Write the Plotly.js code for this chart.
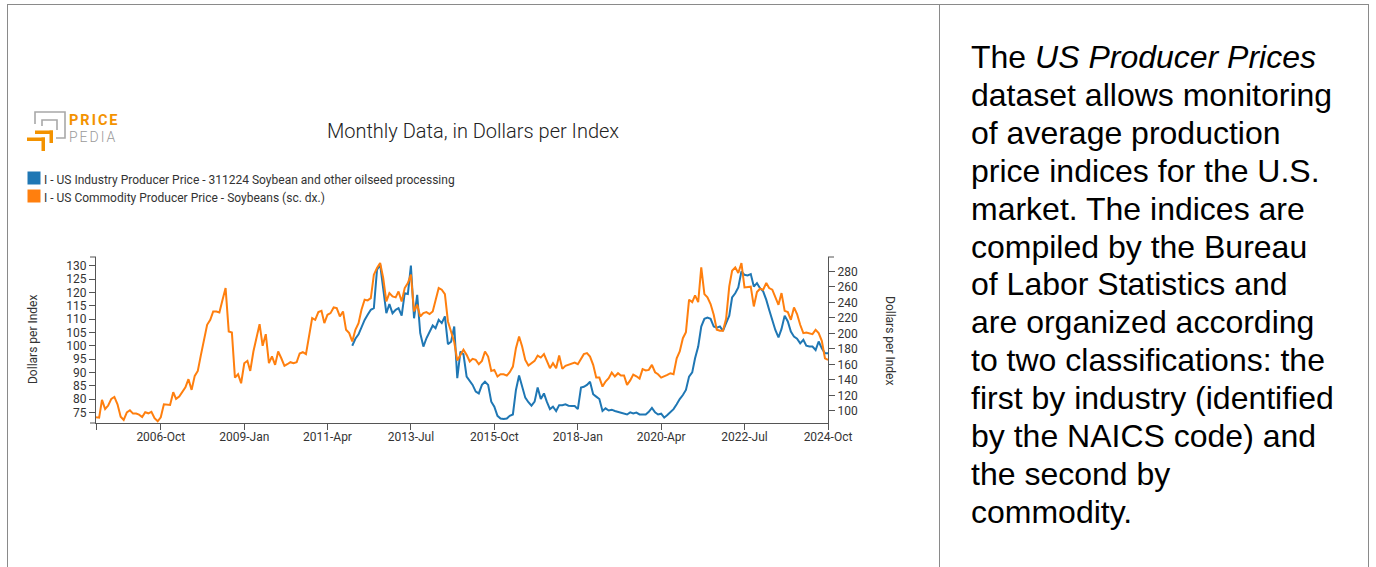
<!DOCTYPE html>
<html>
<head>
<meta charset="utf-8">
<script src="https://cdn.plot.ly/plotly-3.0.1.min.js"></script>
<style>
  html, body { margin: 0; padding: 0; background: #fff; }
  body { width: 1376px; height: 567px; position: relative; overflow: hidden; }
  #frame { position: absolute; left: 7px; top: 4px; width: 1362px; height: 600px;
           border-left: 1px solid #8a8a8a; border-top: 1px solid #8a8a8a; border-right: 1px solid #8a8a8a; box-sizing: border-box; }
  #divider { position: absolute; left: 939px; top: 4px; width: 1px; height: 600px; background: #8a8a8a; }
  #chart { position: absolute; left: 0; top: 0; width: 939px; height: 567px; }
  #logo { position: absolute; left: 69px; top: 112px; font-family: Roboto, sans-serif; font-size: 14px;
          line-height: 17px; white-space: nowrap; }
  #logo .a { color: #f39200; font-weight: 700; letter-spacing: 2px; font-size: 14.5px; }
  #logo .b { color: #9a9a9a; font-weight: 300; letter-spacing: 2px; }
  #note { position: absolute; left: 971px; top: 39px; font-family: "Liberation Sans", Arial, sans-serif;
          font-size: 32px; line-height: 37.9px; color: #000; white-space: nowrap; }
</style>
</head>
<body>
<div id="frame"></div>
<div id="divider"></div>
<div id="chart"></div>
<div id="logo"></div>
<div id="note">The <i>US Producer Prices</i><br>dataset allows monitoring<br>of average production<br>price indices for the U.S.<br>market. The indices are<br>compiled by the Bureau<br>of Labor Statistics and<br>are organized according<br>to two classifications: the<br>first by industry (identified<br>by the NAICS code) and<br>the second by<br>commodity.</div>
<script>
// ---- data ----
const seriesNames = [
  "I - US Industry Producer Price - 311224 Soybean and other oilseed processing",
  "I - US Commodity Producer Price - Soybeans (sc. dx.)"
];
const chartTitle = "Monthly Data, in Dollars per Index";
const axisTitle = "Dollars per Index";

// Soybeans commodity PPI (right axis), monthly from 2005-01
const commodityStart = [2005, 1];
const commodityValues = [
  92, 91.4, 114.3, 102.6, 107, 115.6, 118.1, 108.7, 92.7, 88.4,
  98.3, 100.9, 96.6, 96.6, 95.3, 92.3, 98.3, 97, 98.8, 90.6,
  86.7, 91.9, 108.7, 108.7, 107.8, 124.2, 115.6, 118.6, 124.2, 130.6,
  141, 127.2, 145.3, 151.7, 172.4, 191.8, 211.2, 217.6, 228.4, 228.4,
  227.1, 243.5, 258.5, 202.6, 201.3, 143.1, 147.4, 135.8, 161.6, 164.7,
  151.7, 176.7, 194, 212, 184, 199, 161.6, 170.5, 159.5, 176.7,
  168, 158.2, 160.3, 162.9, 161.6, 162.9, 174.1, 175.8, 173.3, 196.1,
  219.8, 217.6, 227.5, 229.2, 213.3, 224.1, 226.2, 233.6, 232.7, 221.9,
  228.4, 204.7, 200.4, 189.6, 204.7, 213.3, 230.5, 243.5, 242.6, 245.6,
  275.8, 284.4, 290.8, 271.5, 241.3, 252.1, 247.8, 246.5, 254.2, 241.3,
  258.5, 265, 275.8, 228.4, 237, 221.9, 226.2, 227.5, 225, 228.4,
  243.5, 258.5, 256.4, 250.8, 215.5, 201.5, 189, 165, 172.4, 178.9,
  172.4, 163.8, 167.2, 165.9, 160.3, 164.6, 176.7, 170.2, 151.7, 153,
  144.4, 147.4, 147.4, 145.7, 150, 157.3, 181, 196.1, 183.2, 165.9,
  158.6, 161.6, 164.6, 171.5, 168.9, 173.3, 163.8, 155.2, 161.6, 155.2,
  171.5, 154.3, 158.2, 159.5, 160.3, 162.5, 160.3, 168, 173.3, 174.6,
  170.2, 159.5, 143.1, 143.1, 131.5, 138, 142.3, 149.6, 144.4, 148.7,
  145.7, 145.7, 133.6, 139.5, 147, 144.8, 141.8, 153.9, 152.2, 153,
  159.5, 150, 147.4, 143.1, 144.4, 146.6, 148.7, 147.4, 168, 176.7,
  193.9, 201.7, 243.5, 240.4, 249.1, 240.4, 285.2, 250.8, 246.5, 237.9,
  224.1, 204.7, 203.4, 203.4, 218.9, 260.7, 280.9, 285.2, 277.9, 290.8,
  259.4, 259.4, 260.3, 234.8, 253.4, 257.7, 256.4, 265, 258.5, 256.4,
  247.8, 237, 252.1, 229.2, 227.5, 217.6, 233.6, 225, 211.2, 200.4,
  201.3, 200.4, 199.1, 204.7, 200.4, 190.5, 168, 165.9
];

// Industry PPI 311224 (left axis), monthly from 2011-12
const industryStart = [2011, 12];
const industryValues = [
  100, 102.6, 104.3, 107.2, 109.7, 111.6, 113.5,
  114.1, 128.5, 130.4, 121.6, 112.2, 115.6, 112.2, 113.5, 114.1, 111.3,
  119.7, 119.4, 130.1, 110.3, 119.1, 104.7, 99.7, 102.8, 105.1, 107.6,
  106.6, 109.7, 108.5, 111, 100.6, 101.5, 107.2, 87.8, 97.8, 96.8,
  88.4, 86.5, 85.3, 82.8, 82.1, 85.3, 86.5, 85.3, 79, 77.1,
  73.7, 72.7, 72.5, 72.7, 73.7, 74.2, 83.4, 88.8, 84.3, 80.5,
  78.8, 77.5, 79, 84.3, 80, 82.1, 79, 76.2, 77.1, 75.5,
  77.7, 77.7, 78, 77.5, 77.4, 77.4, 76.2, 84.3, 84.6, 85.3,
  86.5, 81.8, 80.9, 80, 75.5, 76.5, 75.7, 76, 75.5, 75.2,
  75, 74.6, 74.2, 75, 74.6, 74.9, 74.2, 74.2, 74.2, 75.2,
  76.7, 75, 74.2, 74.5, 73, 74, 75.2, 76.2, 78, 80,
  81.5, 83.4, 88.4, 90, 95.3, 99.7, 107.2, 110.1, 110.6, 110.1,
  107.2, 106.8, 107.2, 105.6, 108.5, 111.3, 118.1, 119.7, 121.9, 127.9,
  126.6, 126.4, 126.9, 122.2, 123.5, 121.6, 120.4, 117.2, 113.5, 109.1,
  105.9, 103.1, 106.3, 111.3, 109.1, 105.3, 103.4, 102.6, 100.9, 102.2,
  100, 99.7, 99.7, 98.4, 101.6, 99.05, 97.2, 97.2
];

const xTickVals = ["2005-01-01", "2006-10-01", "2009-01-01", "2011-04-01", "2013-07-01",
                   "2015-10-01", "2018-01-01", "2020-04-01", "2022-07-01", "2024-10-01"];
const xTickText = ["", "2006-Oct", "2009-Jan", "2011-Apr", "2013-Jul",
                   "2015-Oct", "2018-Jan", "2020-Apr", "2022-Jul", "2024-Oct"];
const leftTicks = [75, 80, 85, 90, 95, 100, 105, 110, 115, 120, 125, 130];
const rightTicks = [100, 120, 140, 160, 180, 200, 220, 240, 260, 280];
const logoWords = ["PRICE", "PEDIA"];

// ---- helpers ----
function monthDates(start, n) {
  const out = [];
  let y = start[0], m = start[1];
  for (let i = 0; i < n; i++) {
    out.push(y + "-" + String(m).padStart(2, "0") + "-01");
    m++; if (m > 12) { m = 1; y++; }
  }
  return out;
}
document.getElementById("logo").innerHTML =
  '<span class="a">' + logoWords[0] + '</span><br><span class="b">' + logoWords[1] + '</span>';

const W = 939, H = 567, ML = 96, MR = 111, MT = 257, MB = 144;
const PW = W - ML - MR, PH = H - MT - MB;
const px = v => (v - ML) / PW;
const py = v => (H - MB - v) / PH;

const BLUE = "#1f77b4", ORANGE = "#ff7f0e";
const AX = "#555", TXT = "#333";
const font = { family: "Roboto, sans-serif", size: 12, color: TXT };

const traces = [
  { x: monthDates(industryStart, industryValues.length), y: industryValues, type: "scatter", mode: "lines",
    name: seriesNames[0], line: { color: BLUE, width: 2 }, yaxis: "y", hoverinfo: "x+y" },
  { x: monthDates(commodityStart, commodityValues.length), y: commodityValues, type: "scatter", mode: "lines",
    name: seriesNames[1], line: { color: ORANGE, width: 2 }, yaxis: "y2", hoverinfo: "x+y" }
];

function rect(x0, y0, x1, y1, color) {
  return { type: "rect", xref: "paper", yref: "paper", x0: px(x0), x1: px(x1), y0: py(y0), y1: py(y1),
           fillcolor: color, line: { width: 0 }, layer: "above" };
}
function poly(points, color, w) {
  const d = points.map((p, i) => (i ? "L" : "M") + px(p[0]) + "," + py(p[1])).join(" ");
  return { type: "path", xref: "paper", yref: "paper", path: d, line: { color: color, width: w }, layer: "above" };
}
function pixTick(anchorX, x0, x1, yPaper) {
  return { type: "line", xref: "paper", yref: "paper", xsizemode: "pixel", xanchor: anchorX,
           x0: x0, x1: x1, y0: yPaper, y1: yPaper, line: { color: AX, width: 1 } };
}

const LOGO_OR = "#f39200", LOGO_GR = "#a8a8a8";
const shapes = [
  rect(27.5, 171.5, 40.5, 184.5, BLUE),
  rect(27.5, 189.5, 40.5, 202.5, ORANGE),
  poly([[35, 124], [35, 112], [65, 112], [65, 138], [56, 138]], LOGO_GR, 1.6),
  poly([[42, 126], [42, 120], [57, 120], [57, 130]], LOGO_GR, 1.6),
  rect(35, 130.5, 53, 134, LOGO_OR),
  rect(49.5, 130.5, 53, 143, LOGO_OR),
  rect(27, 137.5, 45, 141, LOGO_OR),
  rect(41.5, 137.5, 45, 151, LOGO_OR),
  pixTick(0, -6, 0, 1),
  pixTick(1, 0, 6, 1),
  pixTick(0, -6, 0, 0)
];

const annotations = [
  { text: axisTitle, xref: "paper", yref: "paper", x: px(33), y: 0.5, textangle: -90,
    showarrow: false, xanchor: "center", yanchor: "middle", font: font },
  { text: axisTitle, xref: "paper", yref: "paper", x: px(890), y: 0.5, textangle: 90,
    showarrow: false, xanchor: "center", yanchor: "middle", font: font },
  { text: seriesNames[0], xref: "paper", yref: "paper", x: px(42), y: py(179.5),
    showarrow: false, xanchor: "left", yanchor: "middle", font: font },
  { text: seriesNames[1], xref: "paper", yref: "paper", x: px(42), y: py(197.5),
    showarrow: false, xanchor: "left", yanchor: "middle", font: font }
];

const layout = {
  width: W, height: H,
  margin: { l: ML, r: MR, t: MT, b: MB, pad: 0 },
  paper_bgcolor: "rgba(0,0,0,0)", plot_bgcolor: "rgba(0,0,0,0)",
  showlegend: false,
  font: font,
  title: { text: chartTitle, xref: "container", yref: "container", x: 473 / W, y: 1 - 131 / H,
           xanchor: "center", yanchor: "middle",
           font: { family: "Roboto, sans-serif", size: 20, color: "#222", weight: 300 } },
  xaxis: {
    type: "date", range: ["2005-01-01", "2024-10-01"],
    tickvals: xTickVals, ticktext: xTickText,
    showgrid: false, zeroline: false, showline: true, linecolor: AX, linewidth: 1,
    ticks: "outside", ticklen: 6, tickcolor: AX, tickfont: font, ticklabelstandoff: -3
  },
  yaxis: {
    range: [71, 133.3], tickvals: leftTicks, showgrid: false, zeroline: false,
    showline: true, linecolor: AX, linewidth: 1, ticks: "outside", ticklen: 6, tickcolor: AX,
    tickfont: font, automargin: false
  },
  yaxis2: {
    overlaying: "y", side: "right", range: [84.5, 298.6], tickvals: rightTicks,
    showgrid: false, zeroline: false, showline: true, linecolor: AX, linewidth: 1,
    ticks: "outside", ticklen: 6, tickcolor: AX, tickfont: font, automargin: false
  },
  shapes: shapes,
  annotations: annotations
};

Plotly.newPlot("chart", traces, layout, { displayModeBar: false, staticPlot: true });
</script>
</body>
</html>
